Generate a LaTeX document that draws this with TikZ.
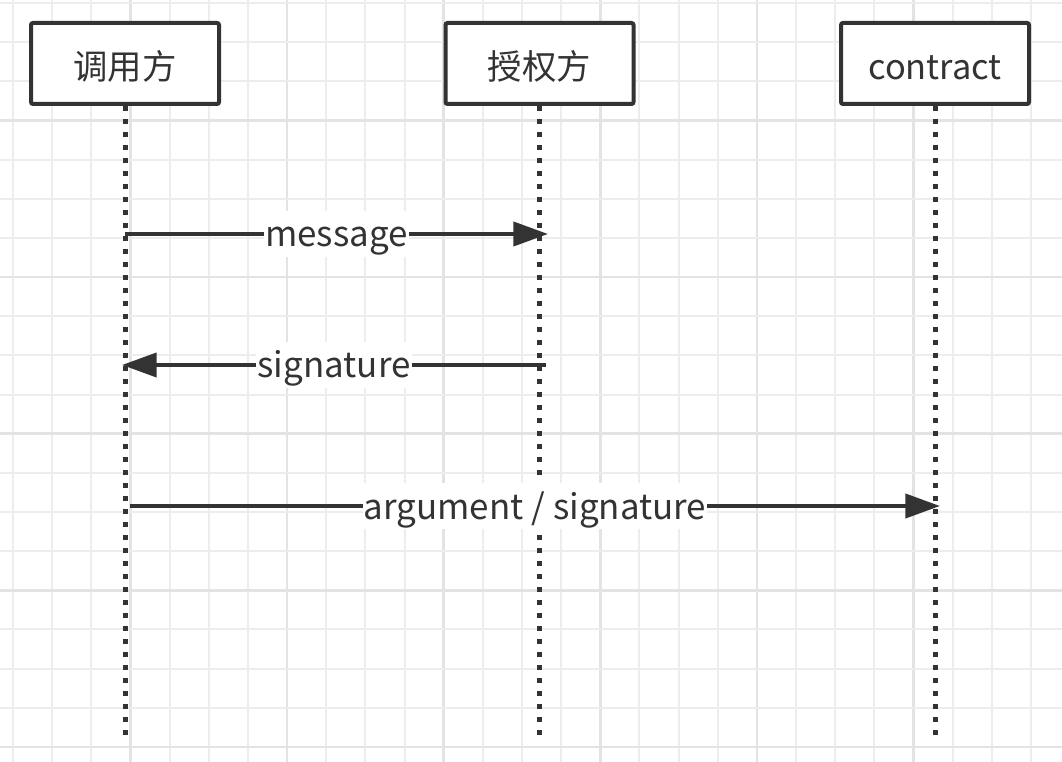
\documentclass[tikz,border=0pt]{standalone}
\usepackage{fontspec}
\setmainfont{Noto Sans CJK SC}
\usetikzlibrary{arrows.meta}
\definecolor{ink}{HTML}{333333}
\definecolor{gridminor}{HTML}{EDEDED}
\definecolor{gridmajor}{HTML}{E3E3E3}
\tikzset{
  actor/.style={draw=ink, line width=3pt, rounded corners=1.5pt, fill=white, minimum width=141pt, minimum height=60.75pt, inner sep=0pt, text=ink, font=\fontsize{25.8pt}{30pt}\selectfont, text height=24pt, text depth=0pt},
  lifeline/.style={draw=ink, line width=3.75pt, dash pattern=on 3.75pt off 6pt},
  msg/.style={draw=ink, line width=3pt, -{Triangle[length=26pt, width=18pt]}},
  msglabel/.style={fill=white, text=ink, inner xsep=1pt, inner ysep=7.5pt, font=\fontsize{26.2pt}{30pt}\selectfont, text height=19.5pt, text depth=0pt}
}
\begin{document}
\begin{tikzpicture}[x=0.75pt, y=-0.75pt]
\useasboundingbox (0,0) rectangle (1062,762);
\fill[white] (0,0) rectangle (1062,762);
% grid
\foreach \k in {0,...,27} {
  \pgfmathsetmacro{\xx}{13+39.15*\k}
  \pgfmathtruncatemacro{\m}{mod(\k,4)}
  \ifnum\m=3
    \draw[gridmajor, line width=2pt] (\xx,0) -- (\xx,762);
  \else
    \draw[gridminor, line width=1.5pt] (\xx,0) -- (\xx,762);
  \fi
}
\foreach \k in {0,...,19} {
  \pgfmathsetmacro{\yy}{3+39.15*\k}
  \pgfmathtruncatemacro{\m}{mod(\k,4)}
  \ifnum\m=3
    \draw[gridmajor, line width=2pt] (0,\yy) -- (1062,\yy);
  \else
    \draw[gridminor, line width=1.5pt] (0,\yy) -- (1062,\yy);
  \fi
}
% actors
\node[actor] (a) at (125,63.5) {调用方};
\node[actor] (b) at (539.5,63.5) {授权方};
\node[actor] (c) at (935,63.5) {contract};
% lifeline ends
\coordinate (ae) at (125,735);
\coordinate (be) at (539.5,735);
\coordinate (ce) at (935,735);
\draw[lifeline] (a.south) -- (ae);
\draw[lifeline] (b.south) -- (be);
\draw[lifeline] (c.south) -- (ce);
% message endpoints
\coordinate (m1s) at (125,234);
\coordinate (m1e) at (548,234);
\coordinate (m2s) at (546,365);
\coordinate (m2e) at (122,365);
\coordinate (m3s) at (130,506);
\coordinate (m3e) at (940,506);
\draw[msg] (m1s) -- node[msglabel] (l1) {message} (m1e);
\draw[msg] (m2s) -- node[msglabel] (l2) {signature} (m2e);
\draw[msg] (m3s) -- node[msglabel] (l3) {argument / signature} (m3e);
\end{tikzpicture}
\end{document}
